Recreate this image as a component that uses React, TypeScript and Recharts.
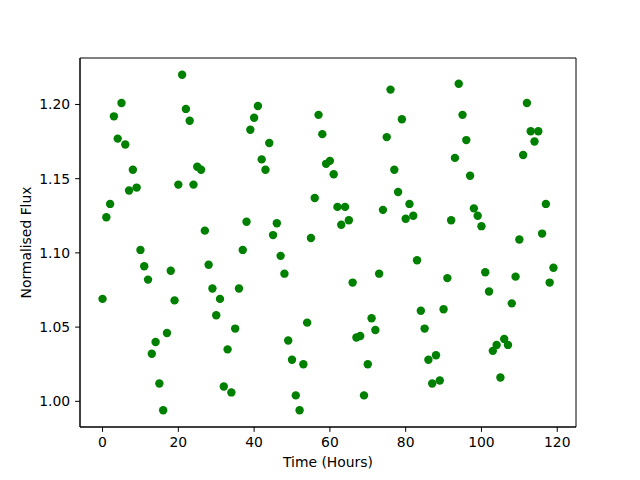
import React from 'react';
import { ScatterChart, Scatter, XAxis, YAxis, Label, ReferenceArea } from 'recharts';

const hours = [
  0, 1, 2, 3, 4, 5, 6, 7, 8, 9, 10, 11, 12, 13, 14, 15, 16, 17, 18, 19,
  20, 21, 22, 23, 24, 25, 26, 27, 28, 29, 30, 31, 32, 33, 34, 35, 36, 37, 38, 39,
  40, 41, 42, 43, 44, 45, 46, 47, 48, 49, 50, 51, 52, 53, 54, 55, 56, 57, 58, 59,
  60, 61, 62, 63, 64, 65, 66, 67, 68, 69, 70, 71, 72, 73, 74, 75, 76, 77, 78, 79,
  80, 81, 82, 83, 84, 85, 86, 87, 88, 89, 90, 91, 92, 93, 94, 95, 96, 97, 98, 99,
  100, 101, 102, 103, 104, 105, 106, 107, 108, 109, 110, 111, 112, 113, 114, 115, 116, 117, 118, 119,
];

const flux = [
  1.069, 1.124, 1.133, 1.192, 1.177, 1.201, 1.173, 1.142, 1.156, 1.144,
  1.102, 1.091, 1.082, 1.032, 1.040, 1.012, 0.994, 1.046, 1.088, 1.068,
  1.146, 1.220, 1.197, 1.189, 1.146, 1.158, 1.156, 1.115, 1.092, 1.076,
  1.058, 1.069, 1.010, 1.035, 1.006, 1.049, 1.076, 1.102, 1.121, 1.183,
  1.191, 1.199, 1.163, 1.156, 1.174, 1.112, 1.120, 1.098, 1.086, 1.041,
  1.028, 1.004, 0.994, 1.025, 1.053, 1.110, 1.137, 1.193, 1.180, 1.160,
  1.162, 1.153, 1.131, 1.119, 1.131, 1.122, 1.080, 1.043, 1.044, 1.004,
  1.025, 1.056, 1.048, 1.086, 1.129, 1.178, 1.210, 1.156, 1.141, 1.190,
  1.123, 1.133, 1.125, 1.095, 1.061, 1.049, 1.028, 1.012, 1.031, 1.014,
  1.062, 1.083, 1.122, 1.164, 1.214, 1.193, 1.176, 1.152, 1.130, 1.125,
  1.118, 1.087, 1.074, 1.034, 1.038, 1.016, 1.042, 1.038, 1.066, 1.084,
  1.109, 1.166, 1.201, 1.182, 1.175, 1.182, 1.113, 1.133, 1.080, 1.090,
];

const xTicks = [0, 20, 40, 60, 80, 100, 120];
const yTicks = [1.0, 1.05, 1.1, 1.15, 1.2];
const xDomain = [-5.95, 124.95];
const yDomain = [0.9827, 1.2313];

const data = hours.map((h, i) => ({ t: h, f: flux[i] }));

const font = 'DejaVu Sans';
const tickStyle = { fill: '#000', fontSize: 13.9, fontFamily: font };

const Dot = (props: any) => {
  const { cx, cy } = props;
  if (cx == null || cy == null) return null;
  return <circle cx={cx} cy={cy} r={4.2} fill="#008000" />;
};

export default function App() {
  return (
    <div style={{ position: 'absolute', left: 0, top: 0, width: 640, height: 480, background: '#fff' }}>
      <ScatterChart width={640} height={480} margin={{ top: 58, right: 64, bottom: 0, left: 0 }}>
        <XAxis
          dataKey="t"
          type="number"
          domain={xDomain}
          ticks={xTicks}
          allowDataOverflow
          height={53}
          stroke="#000"
          tickSize={4.9}
          tickMargin={5}
          tick={tickStyle}
          tickLine={{ stroke: '#000' }}
          axisLine={{ stroke: '#000' }}
        >
          <Label
            content={(p: any) => {
              const vb = p.viewBox;
              return (
                <text
                  x={vb.x + vb.width / 2}
                  y={467}
                  textAnchor="middle"
                  fontSize={13.9}
                  fontFamily={font}
                  fill="#000"
                >
                  Time (Hours)
                </text>
              );
            }}
          />
        </XAxis>
        <YAxis
          dataKey="f"
          type="number"
          domain={yDomain}
          ticks={yTicks}
          allowDataOverflow
          width={80}
          stroke="#000"
          tickSize={4.9}
          tickMargin={4.9}
          tick={tickStyle}
          tickLine={{ stroke: '#000' }}
          axisLine={{ stroke: '#000' }}
          tickFormatter={(v: number) => v.toFixed(2)}
        >
          <Label
            content={(p: any) => {
              const vb = p.viewBox;
              const cy = vb.y + vb.height / 2;
              return (
                <text
                  x={31}
                  y={cy}
                  transform={`rotate(-90 31 ${cy})`}
                  textAnchor="middle"
                  fontSize={13.9}
                  fontFamily={font}
                  fill="#000"
                >
                  Normalised Flux
                </text>
              );
            }}
          />
        </YAxis>
        <ReferenceArea
          x1={xDomain[0]}
          x2={xDomain[1]}
          y1={yDomain[0]}
          y2={yDomain[1]}
          fill="none"
          fillOpacity={0}
          stroke="#000"
          strokeOpacity={1}
          strokeWidth={1}
          ifOverflow="visible"
        />
        <Scatter
          data={data}
          fill="#008000"
          shape={Dot}
          isAnimationActive={false}
        />
      </ScatterChart>
    </div>
  );
}
